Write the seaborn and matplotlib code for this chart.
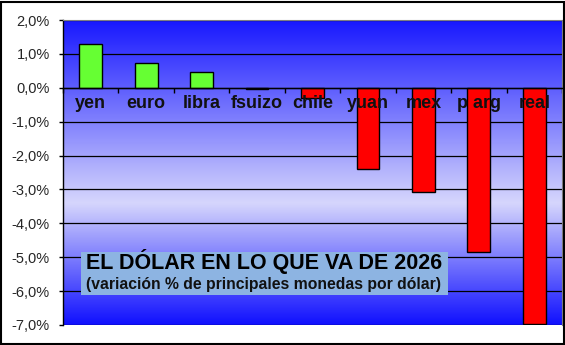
import numpy as np
import matplotlib
matplotlib.use("Agg")
import matplotlib.pyplot as plt
from matplotlib.colors import LinearSegmentedColormap
from matplotlib.patches import Rectangle
import seaborn as sns

categories = ["yen", "euro", "libra", "fsuizo", "chile", "yuan", "mex", "p arg", "real"]
values = [1.28, 0.72, 0.47, -0.04, -0.30, -2.40, -3.08, -4.84, -6.97]
ytick_vals = [2, 1, 0, -1, -2, -3, -4, -5, -6, -7]
ytick_labels = ["2,0%", "1,0%", "0,0%", "-1,0%", "-2,0%", "-3,0%", "-4,0%", "-5,0%", "-6,0%", "-7,0%"]
title = "EL DÓLAR EN LO QUE VA DE 2026"
subtitle = "(variación % de principales monedas por dólar)"

sns.set_style("white")
plt.rcParams["font.family"] = ["Liberation Sans", "DejaVu Sans"]

fig = plt.figure(figsize=(5.65, 3.45), dpi=100)
ax = fig.add_axes([63/565, 20/345, (562-63)/565, (325-20)/345])

# gradient background
cmap = LinearSegmentedColormap.from_list(
    "bg", [(0.0, "#1818ff"), (0.6, "#d6d6fc"), (1.0, "#1010ff")])
grad = np.linspace(0, 1, 256).reshape(-1, 1)
ax.imshow(grad, cmap=cmap, aspect="auto", extent=(-0.5, 8.5, -7, 2),
          origin="upper", zorder=0)

colors = ["#66ff33" if v > 0 else "#ff0000" for v in values]
sns.barplot(x=categories, y=values, hue=categories, palette=colors, legend=False,
            width=0.41, saturation=1, edgecolor="black", linewidth=1,
            ax=ax, zorder=3)

ax.set_xlim(-0.5, 8.5)
ax.set_ylim(-7, 2)
ax.set_yticks(ytick_vals)
ax.set_yticklabels(ytick_labels, fontsize=10.5)
for y in ytick_vals:
    ax.axhline(y, color="black", lw=0.9, zorder=1)

ax.set_xticks(np.arange(-0.5, 9, 1))
ax.set_xticklabels([])
ax.spines["bottom"].set_position(("data", 0))
ax.spines["bottom"].set_zorder(4)
for s in ["left", "bottom"]:
    ax.spines[s].set_color("black")
    ax.spines[s].set_linewidth(1)
for s in ["top", "right"]:
    ax.spines[s].set_color("#808080")
    ax.spines[s].set_linewidth(0.8)
ax.tick_params(axis="x", direction="out", length=3.5, width=1, color="black", bottom=True)
ax.tick_params(axis="y", direction="out", length=3, width=1, color="black", left=True, pad=6.5)
ax.set_xlabel("")
ax.set_ylabel("")

for i, c in enumerate(categories):
    ax.text(i, -0.47, c, ha="center", va="center", fontsize=13, fontweight="bold",
            color="#111111", zorder=5)

# title box
fig.patches.append(Rectangle((81/565, (345-295)/345), (448-81)/565, 43/345,
                             transform=fig.transFigure, facecolor="#8db4e2",
                             edgecolor="none", zorder=5))
fig.text(86/565, (345-261)/345, title, ha="left", va="center", fontsize=15.5,
         fontweight="bold", color="black", zorder=6)
fig.text(86/565, (345-284)/345, subtitle, ha="left", va="center", fontsize=11.3,
         fontweight="bold", color="#111111", zorder=6)

# figure frame
fig.patches.append(Rectangle((1/565, 1/345), 562.5/565, 342.5/345,
                             transform=fig.transFigure, facecolor="none",
                             edgecolor="black", linewidth=1.5, zorder=10))

fig.savefig("out.png", dpi=100)
